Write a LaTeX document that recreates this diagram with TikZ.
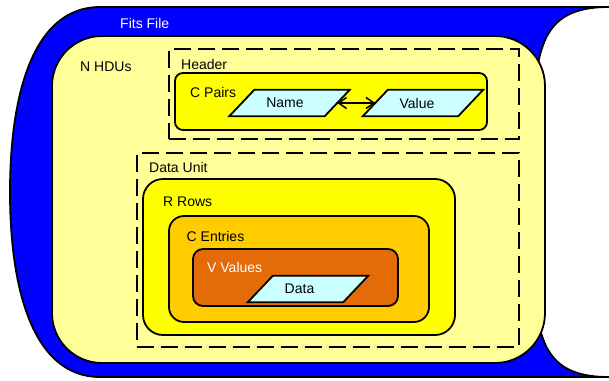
\documentclass[tikz,border=0pt]{standalone}
\usepackage{fontspec}
\setmainfont{Liberation Sans}
\usetikzlibrary{arrows.meta}
\definecolor{fileblue}{HTML}{0000FF}
\definecolor{paleyellow}{HTML}{FFFF99}
\definecolor{brightyellow}{HTML}{FFFF00}
\definecolor{goldbox}{HTML}{FFCC00}
\definecolor{orangebox}{HTML}{E36C09}
\definecolor{paracyan}{HTML}{CCFFFF}
\begin{document}
\begin{tikzpicture}[x=1pt,y=-1pt,
  box/.style={draw=black, line width=1.8pt, inner sep=0pt},
  dashbox/.style={draw=black, line width=2.2pt, dash pattern=on 17pt off 7pt, inner sep=0pt},
  parabody/.style={inner sep=0pt, minimum width=95pt, minimum height=26pt,
    font=\fontsize{14}{16}\selectfont},
  paraline/.style={draw=black, line width=1.8pt, fill=paracyan, line join=miter},
  lbl/.style={anchor=west, inner sep=0pt, font=\fontsize{14}{16}\selectfont}]
\useasboundingbox (0,0) rectangle (609,380);
% outer stored-data shape
\draw[line width=1.8pt, fill=fileblue]
  (100,7) -- (609,7)
  .. controls (530,7) and (533,60) .. (533,192)
  .. controls (533,324) and (530,377) .. (609,377)
  -- (100,377)
  .. controls (35,377) and (10,294) .. (10,192)
  .. controls (10,90) and (35,7) .. (100,7) -- cycle;
\node[lbl, text=white] (fits) at (120,23) {Fits File};
% HDU panel
\node[box, fill=paleyellow, rounded corners=50pt, minimum width=493pt, minimum height=327pt] (hdus) at (298.5,199.5) {};
\node[lbl] (hdulbl) at (80,67) {N HDUs};
% header
\node[dashbox, minimum width=350pt, minimum height=90pt] (header) at (344,94) {};
\node[lbl] (headerlbl) at (181,64) {Header};
\node[box, fill=brightyellow, rounded corners=8pt, minimum width=312pt, minimum height=57pt] (pairs) at (331,101.5) {};
\node[lbl] (pairslbl) at (190,92) {C Pairs};
\node[parabody] (name) at (289.5,103) {};
\node[parabody] (value) at (423,103) {};
\foreach \n/\t/\s in {name/Name/9pt, value/Value/12pt}{
  \path[paraline] ([xshift=-12.5pt]\n.south west) -- ([xshift=-12.5pt]\n.south east)
    -- ([xshift=12.5pt]\n.north east) -- ([xshift=12.5pt]\n.north west) -- cycle;
  \node[parabody] at (\n.center) {\hspace*{-\s}\t};
}
\draw[line width=1.5pt, {Straight Barb[length=8pt,width=11pt]}-{Straight Barb[length=8pt,width=11pt]}] (name.east) -- (value.west);
% data unit
\node[dashbox, minimum width=382pt, minimum height=194pt] (dataunit) at (328,250) {};
\node[lbl] (dataunitlbl) at (149,167) {Data Unit};
\node[box, fill=brightyellow, rounded corners=20pt, minimum width=312pt, minimum height=156pt] (rows) at (299,257) {};
\node[lbl] (rowslbl) at (163,202) {R Rows};
\node[box, fill=goldbox, rounded corners=15pt, minimum width=260pt, minimum height=106pt] (entries) at (299,269) {};
\node[lbl] (entrieslbl) at (186.5,236.5) {C Entries};
\node[box, fill=orangebox, rounded corners=10pt, minimum width=205pt, minimum height=57pt] (values) at (295.5,277.5) {};
\node[lbl, text=white] (valueslbl) at (207,267) {V Values};
\node[parabody] (data) at (308,289) {};
\path[paraline] ([xshift=-12.5pt]data.south west) -- ([xshift=-12.5pt]data.south east)
  -- ([xshift=12.5pt]data.north east) -- ([xshift=12.5pt]data.north west) -- cycle;
\node[parabody] at (data.center) {\hspace*{-17pt}Data};
\end{tikzpicture}
\end{document}
